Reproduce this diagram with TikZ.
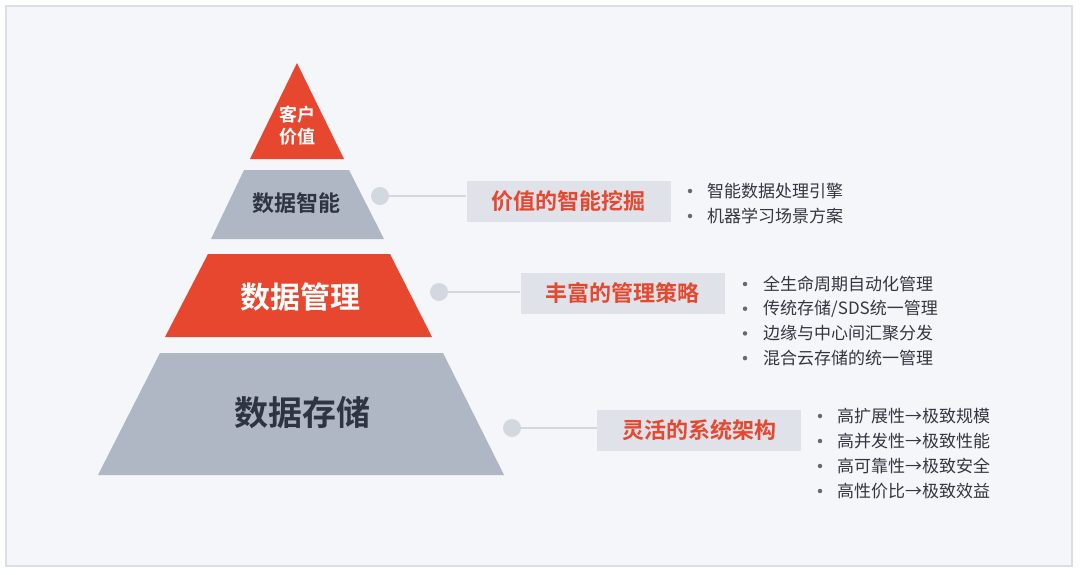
\documentclass[tikz,border=0pt]{standalone}
\usepackage{fontspec}
\setmainfont{Noto Sans CJK SC}[BoldFont={Noto Sans CJK SC Bold}]
\definecolor{pyrred}{HTML}{E8472F}
\definecolor{pyrgray}{HTML}{AFB6C4}
\definecolor{bgcol}{HTML}{F4F6FA}
\definecolor{framecol}{HTML}{DCDEE6}
\definecolor{tagcol}{HTML}{DFE2E8}
\definecolor{dotcol}{HTML}{D3D7DF}
\definecolor{inkdark}{HTML}{2E3440}
\definecolor{itemcol}{HTML}{33373F}

\tikzset{
  layer/.style={inner sep=0pt,font=\bfseries},
  dot/.style={circle,fill=dotcol,inner sep=0pt,minimum size=18pt},
  link/.style={draw=dotcol,line width=1.5pt},
  tag/.style={fill=tagcol,text=pyrred,minimum width=204pt,minimum height=41pt,inner sep=0pt,
    font=\fontsize{22}{26}\selectfont\bfseries},
  bul/.style={circle,fill=itemcol!75,inner sep=0pt,minimum size=4.5pt},
  item/.style={anchor=west,inner sep=0pt,text=itemcol,font=\fontsize{17}{20}\selectfont}
}

\begin{document}
\begin{tikzpicture}[x=1pt,y=-1pt]
  \useasboundingbox (0,0) rectangle (1080,574);
  \fill[white] (0,0) rectangle (1080,574);
  \filldraw[fill=bgcol,draw=framecol,line width=2pt] (6,6) rectangle (1072,566);

  % pyramid, top to bottom
  \fill[pyrred]  (297,63) -- (344,159) -- (250,159) -- cycle;
  \fill[pyrgray] (244,170) -- (349,170) -- (384,239) -- (211,239) -- cycle;
  \fill[pyrred]  (208,254) -- (390,254) -- (432,337) -- (165,337) -- cycle;
  \fill[pyrgray] (160,353) -- (443,353) -- (504,475) -- (98,475) -- cycle;

  \node[layer,white,align=center,font=\fontsize{18}{22}\selectfont\bfseries] (value) at (297,126) {客户\\价值};
  \node[layer,text=inkdark,font=\fontsize{22}{26}\selectfont\bfseries] (intel) at (296,203) {数据智能};
  \node[layer,white,font=\fontsize{30}{34}\selectfont\bfseries] (mgmt) at (300,297) {数据管理};
  \node[layer,text=inkdark,font=\fontsize{34}{38}\selectfont\bfseries] (store) at (302,413) {数据存储};

  % dots, links and tags
  \node[dot] (d1) at (380,196) {};
  \node[dot] (d2) at (439,292) {};
  \node[dot] (d3) at (512,428) {};
  \node[tag] (t1) at (568.5,201) {价值的智能挖掘};
  \node[tag] (t2) at (622.5,293) {丰富的管理策略};
  \node[tag] (t3) at (699,430) {灵活的系统架构};
  \draw[link] (d1) -- (d1 -| t1.west);
  \draw[link] (d2) -- (d2 -| t2.west);
  \draw[link] (d3) -- (d3 -| t3.west);

  % bullet lists
  \foreach \txt [count=\i] in {智能数据处理引擎,机器学习场景方案}{%
    \node[bul] (b1\i) at (690,{191+25*(\i-1)}) {};
    \node[item] (i1\i) at (707,{191+25*(\i-1)}) {\txt};  }
  \foreach \txt [count=\i] in {全生命周期自动化管理,传统存储/SDS统一管理,边缘与中心间汇聚分发,混合云存储的统一管理}{%
    \node[bul] (b2\i) at (745,{284+24.7*(\i-1)}) {};
    \node[item] (i2\i) at (763,{284+24.7*(\i-1)}) {\txt};  }
  \foreach \txt [count=\i] in {高扩展性→极致规模,高并发性→极致性能,高可靠性→极致安全,高性价比→极致效益}{%
    \node[bul] (b3\i) at (820,{416+25*(\i-1)}) {};
    \node[item] (i3\i) at (837,{416+25*(\i-1)}) {\txt};  }
\end{tikzpicture}
\end{document}
